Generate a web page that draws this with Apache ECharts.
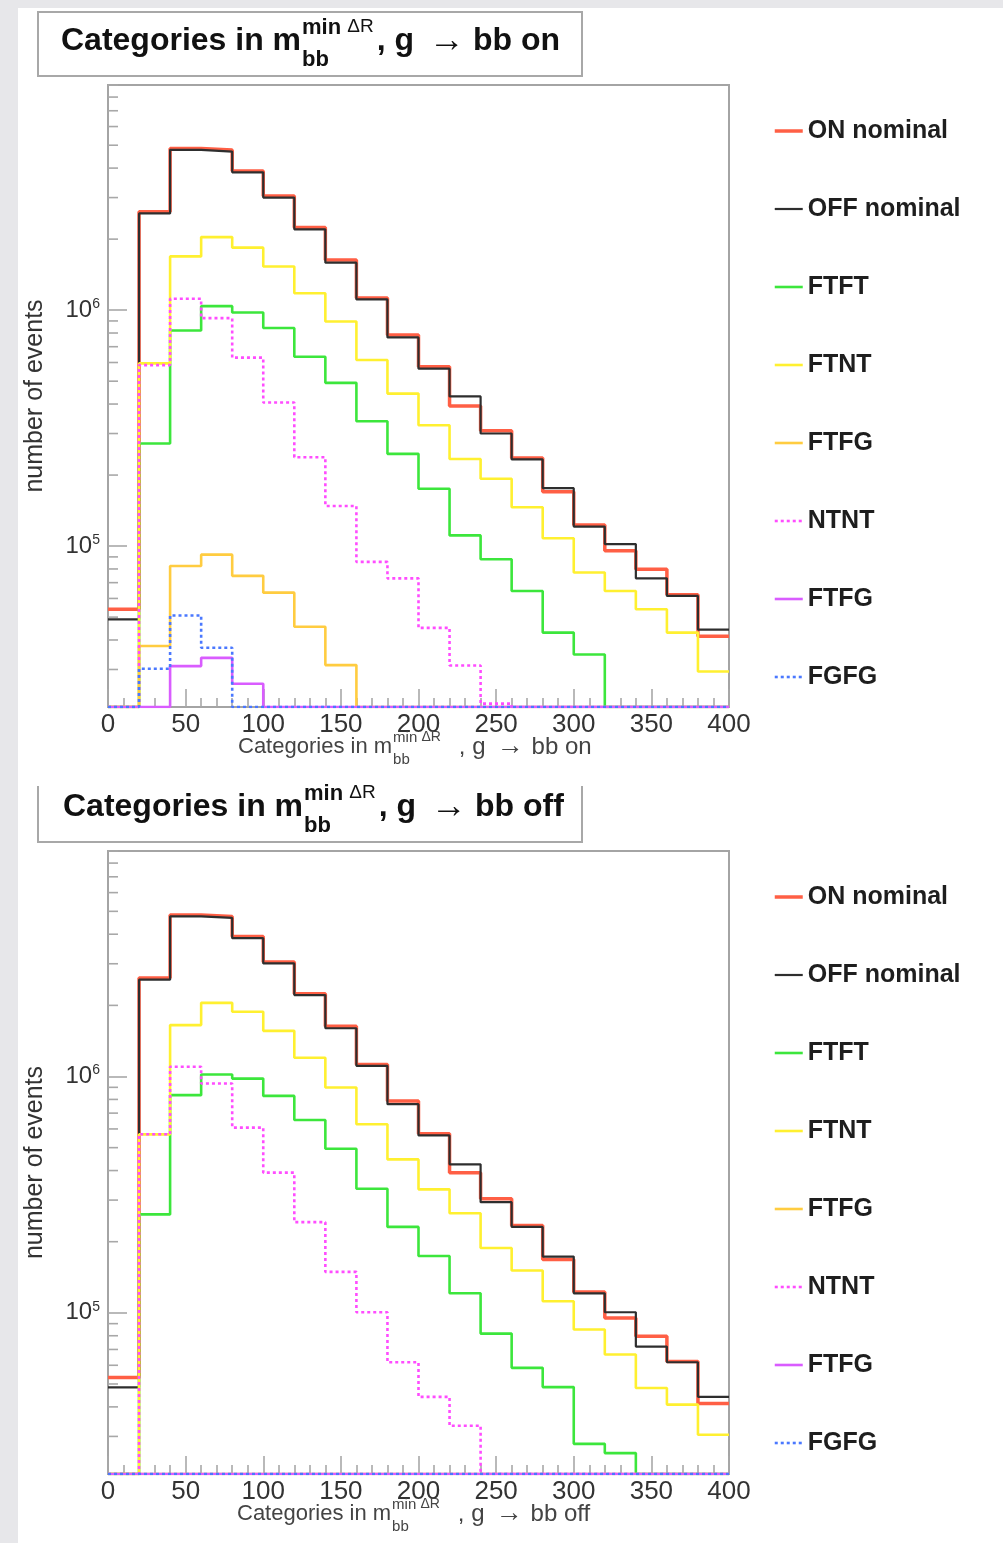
<!DOCTYPE html>
<html>
<head>
<meta charset="utf-8">
<script src="https://cdn.jsdelivr.net/npm/echarts@6/dist/echarts.min.js"></script>
<style>
  html, body { margin: 0; padding: 0; background: #e7e7ea; }
  #chart { width: 1003px; height: 1543px; }
</style>
</head>
<body>
<div id="chart"></div>
<script>
// bin edges of the histograms (20 bins, width 20)
const binEdges = [0, 20, 40, 60, 80, 100, 120, 140, 160, 180, 200,
                  220, 240, 260, 280, 300, 320, 340, 360, 380, 400];
const yMin = 2.08e4;
const yMax = 9.0e6;
// minor tick positions of the log axis
const yMinorTicks = [3e4, 4e4, 5e4, 6e4, 7e4, 8e4, 9e4,
                     2e5, 3e5, 4e5, 5e5, 6e5, 7e5, 8e5, 9e5,
                     2e6, 3e6, 4e6, 5e6, 6e6, 7e6, 8e6, 9e6];
const legendNames = ['ON nominal', 'OFF nominal', 'FTFT', 'FTNT', 'FTFG', 'NTNT', 'FTFG ', 'FGFG'];

// --- g -> bb on (top plot) ---
const onOn    = [54000, 2610000, 4840000, 4770000, 3890000, 3050000, 2240000, 1630000, 1125000, 785000,
                 575000, 392000, 308000, 236000, 170000, 123000, 95500, 79800, 62200, 41500];
const onOff   = [48900, 2570000, 4780000, 4700000, 3840000, 3000000, 2200000, 1590000, 1110000, 766000,
                 565000, 431000, 300000, 233000, 176000, 121000, 102000, 73000, 61500, 44300];
const onFTFT  = [0, 272000, 820000, 1040000, 978000, 840000, 635000, 492000, 338000, 246000,
                 175000, 111000, 88000, 64500, 43000, 34700, 0, 0, 0, 0];
const onFTNT  = [0, 595000, 1690000, 2040000, 1840000, 1530000, 1180000, 895000, 615000, 443000,
                 325000, 234000, 193000, 146000, 108000, 77300, 64500, 54000, 43000, 29400];
const onFTFG  = [0, 37700, 82400, 92000, 74800, 63500, 45500, 31300, 0, 0,
                 0, 0, 0, 0, 0, 0, 0, 0, 0, 0];
const onNTNT  = [0, 585000, 1117000, 925000, 629000, 406000, 238000, 148000, 85700, 73000,
                 45000, 31200, 21500, 0, 0, 0, 0, 0, 0, 0];
const onFTFG2 = [0, 0, 31000, 33600, 26100, 0, 0, 0, 0, 0,
                 0, 0, 0, 0, 0, 0, 0, 0, 0, 0];
const onFGFG  = [0, 30200, 50800, 37100, 0, 0, 0, 0, 0, 0,
                 0, 0, 0, 0, 0, 0, 0, 0, 0, 0];

// --- g -> bb off (bottom plot) ---
const offOn    = [53300, 2610000, 4820000, 4750000, 3910000, 3050000, 2240000, 1630000, 1125000, 788000,
                  572000, 392000, 304000, 234000, 168000, 122500, 95000, 79600, 62300, 41300];
const offOff   = [48400, 2570000, 4760000, 4690000, 3850000, 3010000, 2210000, 1600000, 1110000, 764000,
                  563000, 425000, 294000, 231000, 173000, 121000, 100600, 72000, 61800, 44100];
const offFTFT  = [0, 261000, 834000, 1020000, 980000, 828000, 655000, 495000, 335000, 231000,
                  174000, 121000, 81700, 58500, 48500, 27900, 25500, 0, 0, 0];
const offFTNT  = [0, 569000, 1650000, 2050000, 1880000, 1560000, 1200000, 898000, 628000, 446000,
                  333000, 264000, 188000, 151000, 112000, 85000, 66600, 48100, 40900, 30500];
const offFTFG  = [0, 0, 0, 0, 0, 0, 0, 0, 0, 0, 0, 0, 0, 0, 0, 0, 0, 0, 0, 0];
const offNTNT  = [0, 570000, 1100000, 934000, 608000, 392000, 242000, 149000, 100600, 61800,
                  44100, 33300, 0, 0, 0, 0, 0, 0, 0, 0];
const offFTFG2 = [0, 0, 0, 0, 0, 0, 0, 0, 0, 0, 0, 0, 0, 0, 0, 0, 0, 0, 0, 0];
const offFGFG  = [0, 0, 0, 0, 0, 0, 0, 0, 0, 0, 0, 0, 0, 0, 0, 0, 0, 0, 0, 0];

const FONT = '"Liberation Sans", Arial, Helvetica, sans-serif';
const frameColor = '#a4a4a4';
const tickColor = '#a8a8a8';

// line look of each histogram, same order as legendNames
const lineStyles = [
  { color: '#ff5f45', width: 3.5, type: 'solid' },
  { color: '#2e2e2e', width: 2.2, type: 'solid' },
  { color: '#3ce63c', width: 2.6, type: 'solid' },
  { color: '#fff030', width: 2.6, type: 'solid' },
  { color: '#ffcc40', width: 2.6, type: 'solid' },
  { color: '#ff4cff', width: 2.6, type: [3, 3] },
  { color: '#d95cff', width: 2.6, type: 'solid' },
  { color: '#4a78ff', width: 2.6, type: [3, 3] }
];

const plots = [
  [onOn, onOff, onFTFT, onFTNT, onFTFG, onNTNT, onFTFG2, onFGFG],
  [offOn, offOff, offFTFT, offFTNT, offFTFG, offNTNT, offFTFG2, offFGFG]
];

/** histogram -> step points at the bin edges, empty bins sit on the axis floor */
function histPoints(vals) {
  const pts = vals.map((v, i) => [binEdges[i], v > 0 ? v : yMin]);
  pts.push([binEdges[vals.length], pts[pts.length - 1][1]]);
  return pts;
}

const series = [];
plots.forEach((plot, g) => {
  plot.forEach((vals, k) => {
    series.push({
      type: 'line',
      name: legendNames[k],
      xAxisIndex: g,
      yAxisIndex: g,
      step: 'end',
      symbol: 'none',
      data: histPoints(vals),
      lineStyle: lineStyles[k],
      itemStyle: { color: lineStyles[k].color },
      z: 3 + k
    });
  });
  // minor ticks of the log axis (inside the frame)
  series.push({
    type: 'custom',
    xAxisIndex: g,
    yAxisIndex: g,
    silent: true,
    clip: false,
    z: 1,
    data: yMinorTicks.map(v => [0, v]),
    encode: { x: 0, y: 1 },
    renderItem: function (params, api) {
      const p = api.coord([0, api.value(1)]);
      return {
        type: 'line',
        shape: { x1: p[0], y1: p[1], x2: p[0] + 10, y2: p[1] },
        style: { stroke: tickColor, lineWidth: 1.6 }
      };
    }
  });
});

// text like "Categories in m_bb^{min ΔR}, g → bb on" built from pieces
const measureCtx = document.createElement('canvas').getContext('2d');
function textWidth(str, font) {
  measureCtx.font = font;
  return measureCtx.measureText(str).width;
}
function mathTitle(x, y, color, tail, o) {
  const f1 = o.weight + ' ' + o.size + 'px ' + FONT;
  const fs = o.weight + ' ' + o.supSize + 'px ' + FONT;
  const fd = 'normal ' + o.deltaSize + 'px ' + FONT;
  const f2 = o.weight + ' ' + o.size2 + 'px ' + FONT;
  const fa = 'normal ' + o.arrowSize + 'px ' + FONT;
  const mk = (text, tx, ty, font) => ({
    type: 'text', z: 20, silent: true,
    style: { text: text, x: tx, y: ty, font: font, fill: color,
             textAlign: 'left', verticalAlign: 'middle', textVerticalAlign: 'middle' }
  });
  const part1 = 'Categories in m';
  const sx = x + textWidth(part1, f1) + 1;
  const wMin = textWidth('min ', fs);
  const supEnd = sx + wMin + textWidth('ΔR', fd);
  const cx = supEnd + o.gap;
  const ax = cx + textWidth(', g', f2) + o.arrowGapL;
  const bx = ax + textWidth('\u2192', fa) + o.arrowGapR;
  return [
    mk(part1, x, y, f1),
    mk('min', sx, y - o.supDy, fs),
    mk('ΔR', sx + wMin, y - o.supDy - 1, fd),
    mk('bb', sx, y + o.subDy, fs),
    mk(', g', cx, y, f2),
    mk('\u2192', ax, y, fa),
    mk('bb ' + tail, bx, y, f2)
  ];
}
const bigTitle = { weight: 'bold', size: 32, supSize: 22, deltaSize: 19, size2: 32, arrowSize: 36,
                   supDy: 13, subDy: 19, gap: 3, arrowGapL: 15, arrowGapR: 8 };
const axisTitle = { weight: 'normal', size: 22, supSize: 15, deltaSize: 14, size2: 24, arrowSize: 27,
                    supDy: 9, subDy: 13, gap: 18, arrowGapL: 11, arrowGapR: 8 };

function yLabel(v) {
  const e = Math.log10(v);
  if (Math.abs(e - Math.round(e)) > 1e-6) return '';
  return '{b|10}{s|' + Math.round(e) + '}';
}

const grids = [
  { left: 108, top: 85, width: 621, height: 622 },
  { left: 108, top: 851, width: 621, height: 623 }
];

const option = {
  animation: false,
  backgroundColor: '#e7e7ea',
  grid: grids.map(gr => Object.assign({
    show: true, borderColor: frameColor, borderWidth: 2, backgroundColor: '#fff'
  }, gr)),
  xAxis: [0, 1].map(g => ({
    gridIndex: g,
    type: 'value',
    min: 0,
    max: 400,
    interval: 50,
    axisLine: { show: true, lineStyle: { color: frameColor, width: 2 } },
    axisTick: { show: true, inside: true, length: 18, lineStyle: { color: tickColor, width: 1.6 } },
    minorTick: { show: true, splitNumber: 5, length: 9, lineStyle: { color: tickColor, width: 1.6 } },
    splitLine: { show: false },
    axisLabel: { fontSize: 26, color: '#333', margin: 5, fontFamily: FONT }
  })),
  yAxis: [0, 1].map(g => ({
    gridIndex: g,
    type: 'log',
    logBase: 10,
    min: yMin,
    max: yMax,
    name: 'number of events',
    nameLocation: 'middle',
    nameRotate: 90,
    nameGap: 60,
    nameTextStyle: { fontSize: 25, color: '#333', fontFamily: FONT },
    axisLine: { show: true, lineStyle: { color: frameColor, width: 2 } },
    axisTick: { show: true, inside: true, length: 19, lineStyle: { color: tickColor, width: 1.6 } },
    splitLine: { show: false },
    axisLabel: {
      margin: 8,
      showMinLabel: false,
      showMaxLabel: false,
      formatter: yLabel,
      rich: {
        b: { fontSize: 24, color: '#333', fontFamily: FONT, lineHeight: 26 },
        s: { fontSize: 14, color: '#333', fontFamily: FONT, verticalAlign: 'top', lineHeight: 14 }
      }
    }
  })),
  legend: [118, 884].map(top => ({
    orient: 'vertical',
    left: 773,
    top: top,
    padding: 0,
    itemWidth: 28,
    itemHeight: 12,
    itemGap: 52,
    data: legendNames,
    selectedMode: false,
    itemStyle: { opacity: 0 },
    lineStyle: { width: 'inherit' },
    textStyle: { fontSize: 25, fontWeight: 'bold', color: '#1e1e1e', fontFamily: FONT, lineHeight: 26 }
  })),
  graphic: [
    { type: 'rect', z: -100, silent: true,
      shape: { x: 18, y: 8, width: 985, height: 1535 }, style: { fill: '#fff' } },
    { type: 'rect', z: 10, silent: true,
      shape: { x: 38, y: 12, width: 544, height: 64 },
      style: { fill: '#fff', stroke: '#a8a8a8', lineWidth: 2 } },
    { type: 'polyline', z: 10, silent: true,
      shape: { points: [[38, 786], [38, 842], [582, 842], [582, 786]] },
      style: { fill: null, stroke: '#a8a8a8', lineWidth: 2 } }
  ].concat(
    mathTitle(61, 41, '#111', 'on', bigTitle),
    mathTitle(63, 807, '#111', 'off', bigTitle),
    mathTitle(238, 747, '#444', 'on', axisTitle),
    mathTitle(237, 1514, '#444', 'off', axisTitle)
  ),
  series: series
};

const chart = echarts.init(document.getElementById('chart'));
chart.setOption(option);
</script>
</body>
</html>
